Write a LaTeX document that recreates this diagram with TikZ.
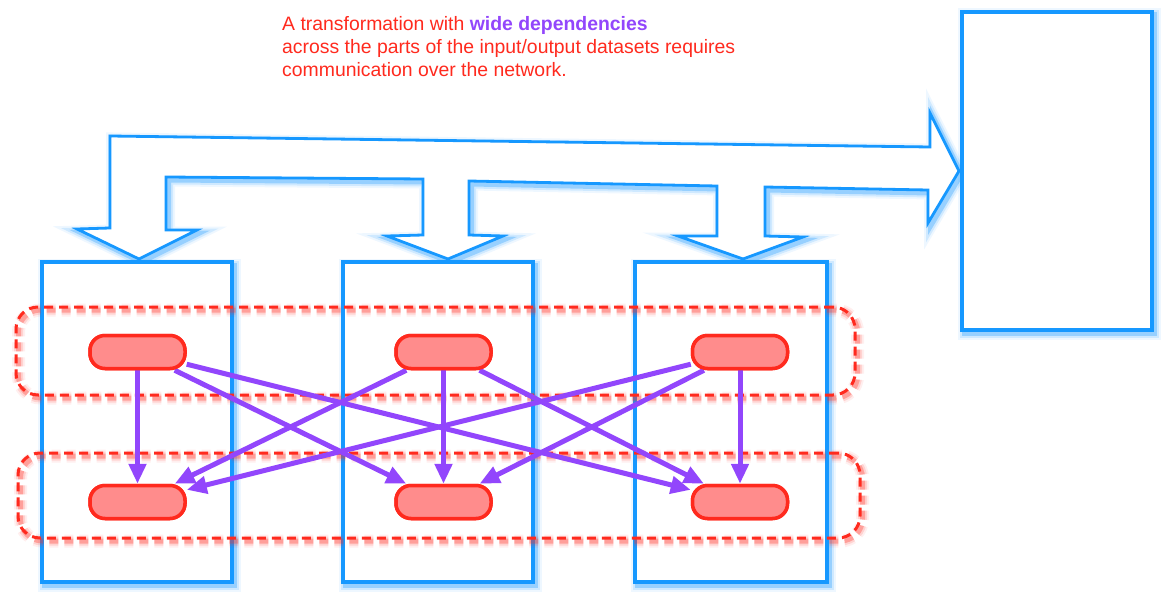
\documentclass[tikz,border=0pt]{standalone}
\usepackage{fontspec}
\setmainfont{Liberation Sans}
\usetikzlibrary{arrows.meta}
\definecolor{cblue}{RGB}{22,152,255}
\definecolor{cred}{RGB}{255,42,30}
\definecolor{cpink}{RGB}{255,140,140}
\definecolor{cpurple}{RGB}{146,70,252}
\tikzset{
  glow/.style={
    preaction={draw=#1, draw opacity=.07, line width=13pt, transform canvas={shift={(2.5pt,-3pt)}}},
    preaction={draw=#1, draw opacity=.14, line width=9pt, transform canvas={shift={(2.5pt,-3pt)}}},
    preaction={draw=#1, draw opacity=.30, line width=5pt, transform canvas={shift={(2.5pt,-3pt)}}}},
  box/.style={draw=cblue, line width=3.5pt, fill=white, inner sep=0pt, outer sep=0pt, glow=cblue},
  grp/.style={draw=cred, line width=3pt, dash pattern=on 9pt off 6pt, rounded corners=22pt, inner sep=0pt, glow=cred},
  pill/.style={draw=cred, fill=cpink, line width=3.5pt, rounded corners=15pt, minimum width=95pt, minimum height=33pt, inner sep=0pt},
  dep/.style={draw=cpurple, line width=5pt, -{Triangle[length=20pt,width=17pt]}},
  txt/.style={text=cred, font=\fontsize{19.4pt}{23pt}\selectfont, inner sep=0pt},
  bigarrow/.style={draw=cblue, line width=2.8pt, fill=white, line join=miter, glow=cblue}
}
\begin{document}
\begin{tikzpicture}[x=1pt,y=-1pt]
\useasboundingbox (0,0) rectangle (1172,604);
\fill[white] (0,0) rectangle (1172,604);

% text
\node[txt, anchor=base west] (l1) at (282,31) {A transformation with \textcolor{cpurple}{\textbf{wide dependencies}}};
\node[txt, anchor=base west] (l2) at (282,54) {across the parts of the input/output datasets requires};
\node[txt, anchor=base west] (l3) at (282,77) {communication over the network.};

% big network arrow
\path[bigarrow] (110,136) -- (930,147) -- (930,113) -- (959,171) -- (928,223) -- (928,190)
  -- (765,187) -- (765,236) -- (803,237) -- (743,259) -- (678,236) -- (717,236) -- (717,186)
  -- (469,181) -- (469,235) -- (503,236) -- (448,259) -- (387,236) -- (423,235) -- (423,179)
  -- (166,177) -- (166,230) -- (197,230) -- (139,259) -- (77,229) -- (110,228) -- cycle;

% boxes
\node[box, minimum width=190pt, minimum height=320pt] (b1) at (137,422) {};
\node[box, minimum width=190pt, minimum height=320pt] (b2) at (438,422) {};
\node[box, minimum width=192pt, minimum height=320pt] (b3) at (731,422) {};
\node[box, minimum width=190pt, minimum height=318pt] (b4) at (1057,171) {};

% dashed groups
\node[grp, minimum width=839pt, minimum height=88pt] (g1) at (435.5,351) {};
\node[grp, minimum width=842pt, minimum height=85pt] (g2) at (439,495.5) {};

% partitions
\node[pill] (t1) at (137.5,352) {};
\node[pill] (t2) at (443.5,352) {};
\node[pill] (t3) at (740,352) {};
\node[pill] (d1) at (137.5,502) {};
\node[pill] (d2) at (443.5,502) {};
\node[pill] (d3) at (740,502) {};

% dependencies
\draw[dep] (t1) -- (d1);
\draw[dep] (t1) -- (d2);
\draw[dep] (t1) -- (d3);
\draw[dep] (t2) -- (d1);
\draw[dep] (t2) -- (d2);
\draw[dep] (t2) -- (d3);
\draw[dep] (t3) -- (d1);
\draw[dep] (t3) -- (d2);
\draw[dep] (t3) -- (d3);

% redraw pills on top
\node[pill] at (t1) {};
\node[pill] at (t2) {};
\node[pill] at (t3) {};
\node[pill] at (d1) {};
\node[pill] at (d2) {};
\node[pill] at (d3) {};
\end{tikzpicture}
\end{document}
